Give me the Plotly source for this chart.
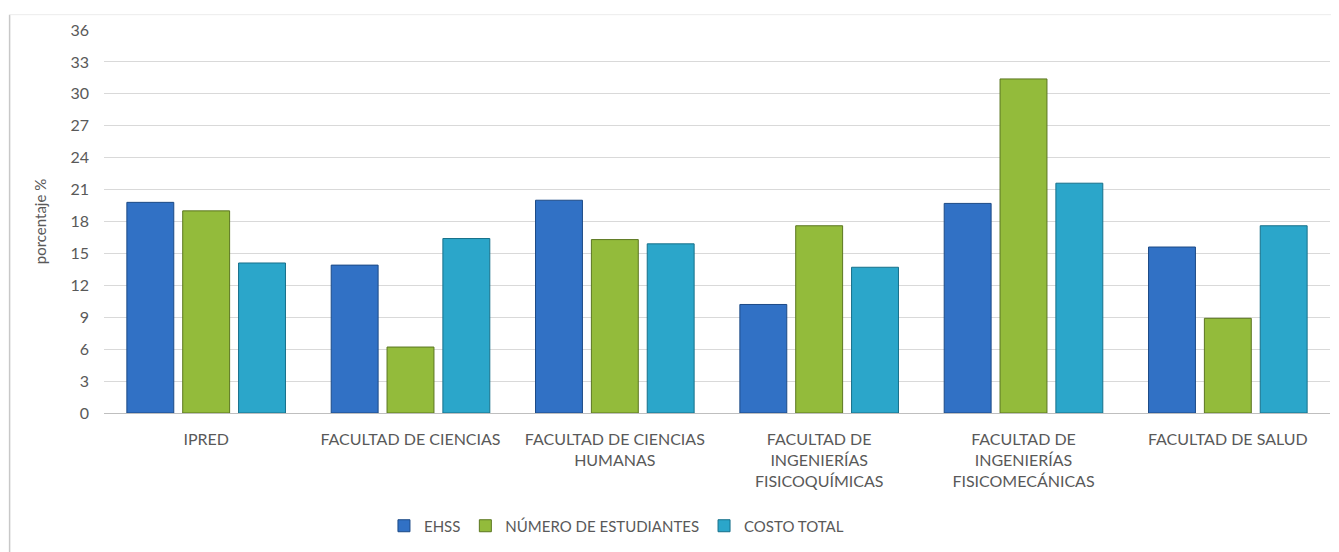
import plotly.graph_objects as go

# ── Data ───────────────────────────────────────────────────────────────────────
categories = [
    "IPRED",
    "FACULTAD DE CIENCIAS",
    "FACULTAD DE CIENCIAS<br>HUMANAS",
    "FACULTAD DE<br>INGENIERÍAS<br>FISICOQUÍMICAS",
    "FACULTAD DE<br>INGENIERÍAS<br>FISICOMECÁNICAS",
    "FACULTAD DE SALUD",
]
ehss = [19.8, 13.9, 20.0, 10.2, 19.7, 15.6]
num_estudiantes = [19.0, 6.2, 16.3, 17.6, 31.4, 8.9]
costo_total = [14.1, 16.4, 15.9, 13.7, 21.6, 17.6]

y_ticks = list(range(0, 37, 3))

FONT = "Lato, 'Open Sans', sans-serif"
TXT = "#595959"

series = [
    ("EHSS", ehss, "#3171C5", "#1C4A86"),
    ("NÚMERO DE ESTUDIANTES", num_estudiantes, "#93BB3B", "#5B7620"),
    ("COSTO TOTAL", costo_total, "#2BA6CA", "#17708A"),
]

fig = go.Figure()
for name, vals, color, edge in series:
    fig.add_trace(go.Bar(
        x=categories, y=vals,
        name=name,
        marker=dict(color=color, line=dict(color=edge, width=1)),
    ))

# chart-area frame (left and top edge visible in the reference)
fig.add_shape(type="line", xref="paper", yref="paper",
              x0=-0.077, x1=-0.077, y0=1.04, y1=-0.4,
              line=dict(color="#C8C8C8", width=1.5))
fig.add_shape(type="line", xref="paper", yref="paper",
              x0=-0.077, x1=1.02, y0=1.04, y1=1.04,
              line=dict(color="#ECECEC", width=1))

# page body keeps an 8px margin, so the figure is sized to fit the window
fig.update_layout(
    width=1331, height=544,
    paper_bgcolor="white",
    plot_bgcolor="white",
    margin=dict(l=96, r=9, t=22, b=133),
    barmode="group",
    bargap=0.18,
    bargroupgap=0.16,
    font=dict(family=FONT, color=TXT, size=15),
    xaxis=dict(
        showgrid=False,
        showline=True, linecolor="#BFBFBF", linewidth=1,
        ticks="", tickfont=dict(size=16, color=TXT),
        ticklabelstandoff=12,
        tickangle=0,
    ),
    yaxis=dict(
        range=[0, 36],
        tickvals=y_ticks,
        showgrid=True, gridcolor="#D9D9D9", gridwidth=1,
        zeroline=False,
        showline=False,
        ticks="", tickfont=dict(size=16, color=TXT),
        ticklabelstandoff=14,
        title=dict(text="porcentaje %", font=dict(size=15, color=TXT), standoff=20),
    ),
    legend=dict(
        orientation="h",
        x=0.418, xanchor="center",
        y=-0.295, yanchor="middle",
        font=dict(size=15, color=TXT),
        itemwidth=30,
        traceorder="normal",
    ),
)

fig.write_html("out.html")
